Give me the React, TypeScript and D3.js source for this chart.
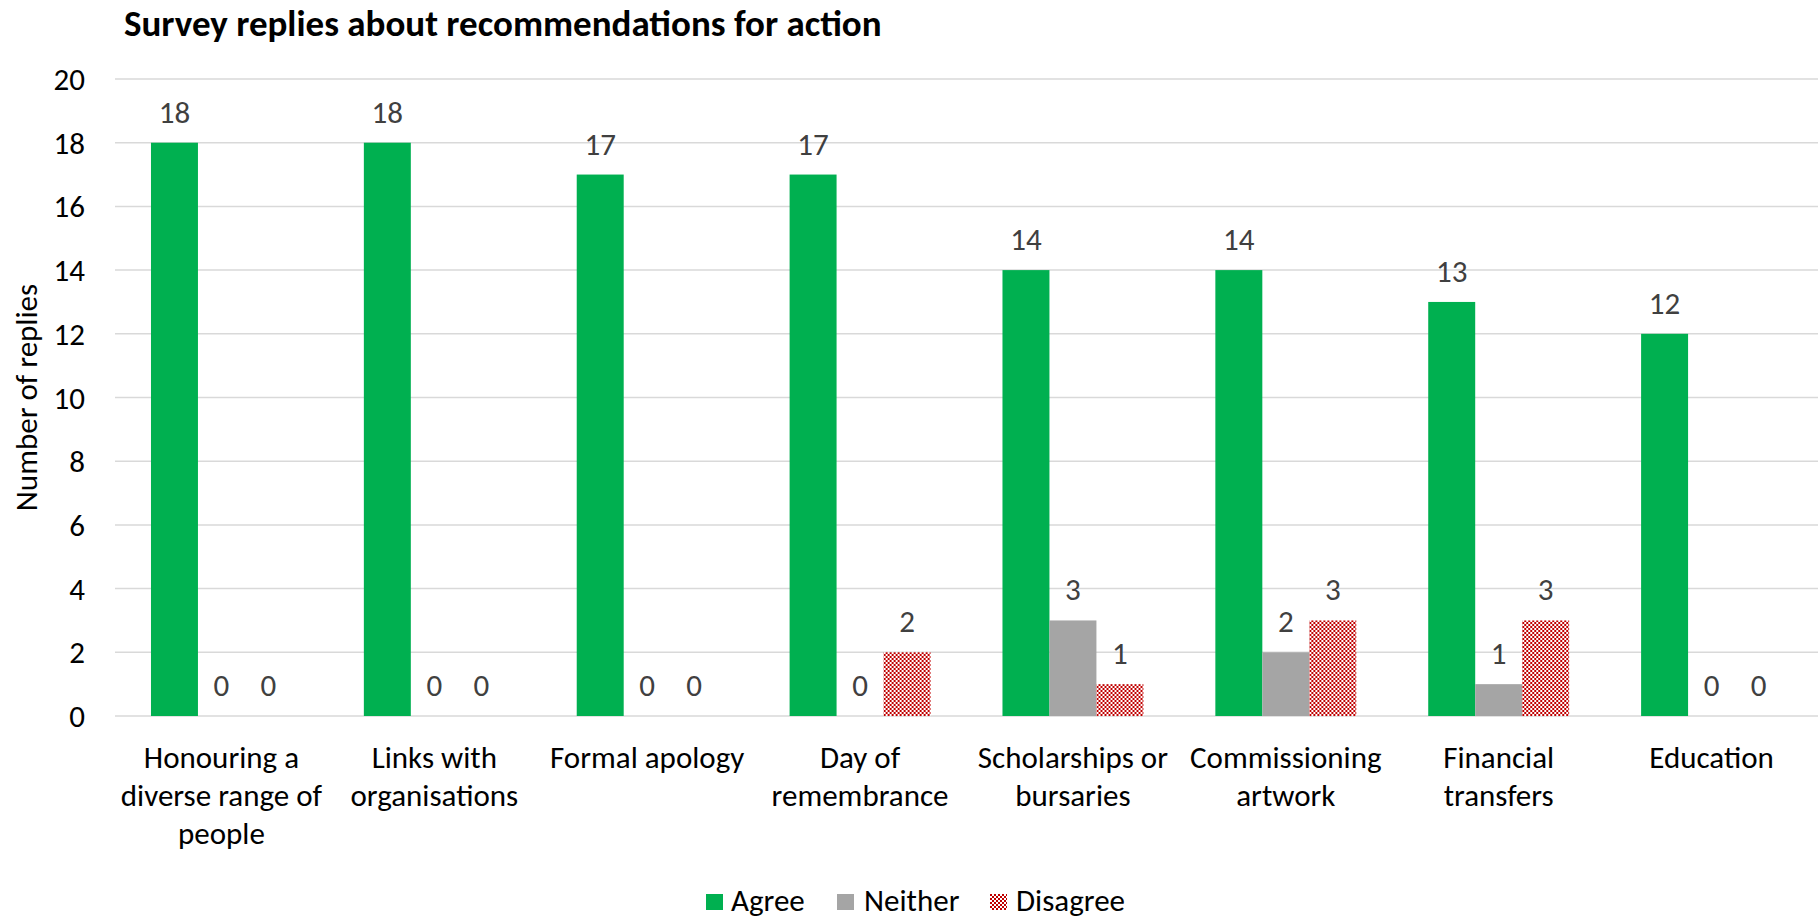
import React from "react";
import * as d3 from "d3";

const categories = [
  "Honouring a diverse range of people",
  "Links with organisations",
  "Formal apology",
  "Day of remembrance",
  "Scholarships or bursaries",
  "Commissioning artwork",
  "Financial transfers",
  "Education",
];
const categoryLines = [
  ["Honouring a", "diverse range of", "people"],
  ["Links with", "organisations"],
  ["Formal apology"],
  ["Day of", "remembrance"],
  ["Scholarships or", "bursaries"],
  ["Commissioning", "artwork"],
  ["Financial", "transfers"],
  ["Education"],
];
const seriesNames = ["Agree", "Neither", "Disagree"];
const agree = [18, 18, 17, 17, 14, 14, 13, 12];
const neither = [0, 0, 0, 0, 3, 2, 1, 0];
const disagree = [0, 0, 0, 2, 1, 3, 3, 0];
const yTicks = [0, 2, 4, 6, 8, 10, 12, 14, 16, 18, 20];
const title = "Survey replies about recommendations for action";
const yTitle = "Number of replies";

const seriesValues = [agree, neither, disagree];
const fills = ["#00B050", "#A5A5A5", "url(#checker)"];
const FONT = "Carlito, Lato, 'Open Sans', sans-serif";

export default function App() {
  const W = 1818;
  const H = 919;
  const left = 115;
  const right = 1818;
  const top = 79;
  const bottom = 716;
  const FS = 31;

  const y = d3.scaleLinear().domain([0, 20]).range([bottom, top]);
  const x0 = d3.scaleBand<string>().domain(categories).range([left, right]).padding(0);
  const groupW = x0.bandwidth() * 0.662;
  const x1 = d3
    .scaleBand<string>()
    .domain(seriesNames)
    .range([(x0.bandwidth() - groupW) / 2, (x0.bandwidth() + groupW) / 2])
    .padding(0);

  const legendX = [706, 837, 990];
  const legendTextX = [731, 864, 1016];

  return (
    <div style={{ position: "absolute", left: 0, top: 0, width: W, height: H, overflow: "hidden", background: "#fff" }}>
      <svg width={W} height={H} style={{ display: "block", fontFamily: FONT }}>
        <defs>
          <pattern id="checker" width={4} height={4} patternUnits="userSpaceOnUse">
            <rect x={0} y={0} width={4} height={4} fill="#ffffff" />
            <rect x={0} y={0} width={2} height={2} fill="#C00000" />
            <rect x={2} y={2} width={2} height={2} fill="#C00000" />
          </pattern>
        </defs>
        <rect x={0} y={0} width={W} height={H} fill="#fff" />
        <text x={124} y={36} fontSize={37} fontWeight="bold" fill="#000">
          {title}
        </text>
        {yTicks.map((t) => (
          <g key={t}>
            <line x1={left} x2={right} y1={y(t)} y2={y(t)} stroke="#D9D9D9" strokeWidth={1.5} />
            <text x={85} y={y(t)} textAnchor="end" dominantBaseline="central" fontSize={FS} fill="#000">
              {t}
            </text>
          </g>
        ))}
        <text
          transform={`translate(26,${(top + bottom) / 2}) rotate(-90)`}
          textAnchor="middle"
          dominantBaseline="central"
          fontSize={FS}
          fill="#000"
        >
          {yTitle}
        </text>
        {categories.map((c, i) => (
          <g key={c} transform={`translate(${x0(c)},0)`}>
            {seriesNames.map((s, j) => {
              const v = seriesValues[j][i];
              const bx = x1(s)!;
              return (
                <g key={s}>
                  {v > 0 && (
                    <rect x={bx} y={y(v)} width={x1.bandwidth()} height={y(0) - y(v)} fill={fills[j]} />
                  )}
                  <text
                    x={bx + x1.bandwidth() / 2}
                    y={y(v) - 20}
                    textAnchor="middle"
                    fontSize={FS}
                    fill="#404040"
                  >
                    {v}
                  </text>
                </g>
              );
            })}
            {categoryLines[i].map((ln, k) => (
              <text
                key={k}
                x={x0.bandwidth() / 2}
                y={768 + k * 38}
                textAnchor="middle"
                fontSize={FS}
                fill="#000"
              >
                {ln}
              </text>
            ))}
          </g>
        ))}
        {seriesNames.map((s, j) => (
          <g key={s}>
            <rect x={legendX[j]} y={894} width={17} height={16} fill={fills[j]} />
            <text x={legendTextX[j]} y={911} fontSize={FS} fill="#000">
              {s}
            </text>
          </g>
        ))}
      </svg>
    </div>
  );
}
